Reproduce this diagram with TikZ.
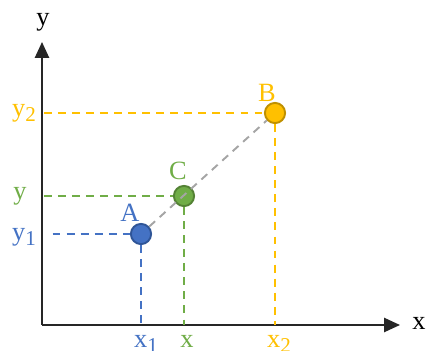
\documentclass[tikz,border=0pt]{standalone}
\usepackage{fontspec}
\setmainfont{Liberation Serif}
\usetikzlibrary{arrows.meta}
\definecolor{axis}{HTML}{262626}
\definecolor{ablue}{HTML}{4472C4}
\definecolor{ablueline}{HTML}{2F5597}
\definecolor{cgreen}{HTML}{70AD47}
\definecolor{cgreenline}{HTML}{548235}
\definecolor{bgold}{HTML}{FFC000}
\definecolor{bgoldline}{HTML}{BF9000}
\definecolor{link}{HTML}{A5A5A5}
\newcommand{\lowidx}[1]{\raisebox{-0.35ex}{\fontsize{12}{12}\selectfont #1}}

\begin{document}
\begin{tikzpicture}[x=0.02cm,y=-0.02cm,>={Triangle[length=9pt,width=8pt]},
  every node/.style={font=\fontsize{15}{18}\selectfont,inner sep=0pt},
  pt/.style={circle,minimum size=11.5pt,line width=1.1pt},
  guide/.style={dashed,line width=1.1pt,dash pattern=on 4.5pt off 3.5pt}]
  \useasboundingbox (0,0) rectangle (427,351);
  \coordinate (O) at (42,325);
  \coordinate (xend) at (400,325);
  \coordinate (yend) at (42,42);
  \draw[->,draw=axis,line width=1.1pt] (O) -- (xend);
  \draw[->,draw=axis,line width=1.1pt] (O) -- (yend);
  \node[anchor=base] (xlab) at (419,330) {x};
  \node[anchor=base] (ylab) at (43,26) {y};

  \node[pt,fill=ablue,draw=ablueline] (A) at (141,234) {};
  \node[pt,fill=cgreen,draw=cgreenline] (C) at (184,196) {};
  \node[pt,fill=bgold,draw=bgoldline] (B) at (275,113) {};

  \draw[guide,draw=link] (A) -- (B);

  \coordinate (ax) at (A |- O);
  \coordinate (ay) at (O |- A);
  \coordinate (cx) at (C |- O);
  \coordinate (cy) at (O |- C);
  \coordinate (bx) at (B |- O);
  \coordinate (by) at (O |- B);
  \draw[guide,draw=ablue] ([xshift=6]ay) -- (A.west);
  \draw[guide,draw=ablue] (A.south) -- (ax);
  \draw[guide,draw=cgreen] ([xshift=1]cy) -- (C.west);
  \draw[guide,draw=cgreen] (C.south) -- (cx);
  \draw[guide,draw=bgold] ([xshift=1]by) -- (B.west);
  \draw[guide,draw=bgold] (B.south) -- (bx);

  \node[text=ablue,anchor=base] (Alab) at (130,222) {A};
  \node[text=cgreen,anchor=base] (Clab) at (178,180) {C};
  \node[text=bgold,anchor=base] (Blab) at (267,102) {B};

  \node[text=ablue,anchor=base] (y1) at (24,241) {y\lowidx{1}};
  \node[text=cgreen,anchor=base] (yc) at (20,200) {y};
  \node[text=bgold,anchor=base] (y2) at (24,117) {y\lowidx{2}};
  \node[text=ablue,anchor=base] (x1) at (146,348) {x\lowidx{1}};
  \node[text=cgreen,anchor=base] (xc) at (187,348) {x};
  \node[text=bgold,anchor=base] (x2) at (279,348) {x\lowidx{2}};
\end{tikzpicture}
\end{document}
